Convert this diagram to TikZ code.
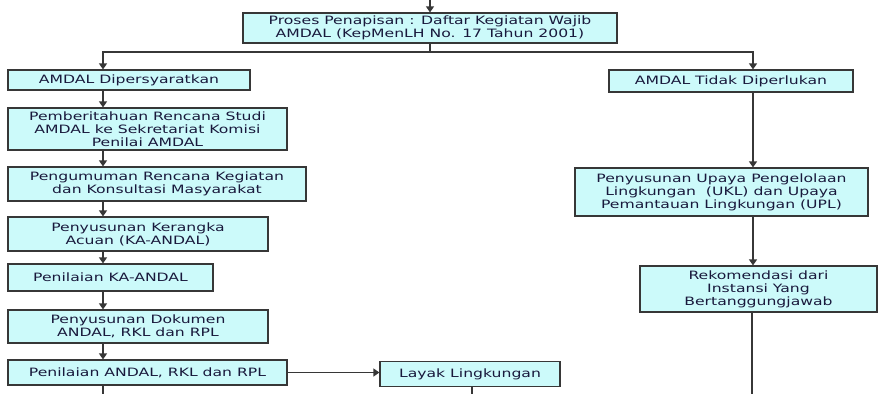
\documentclass[tikz,border=0pt]{standalone}
\usepackage{fontspec}
\newfontfamily\vfont[FakeStretch=1.36]{DejaVu Sans}
\usetikzlibrary{arrows.meta}
\definecolor{boxfill}{RGB}{204,250,250}
\definecolor{boxline}{RGB}{55,55,55}
\definecolor{txt}{RGB}{25,25,60}
\tikzset{
  box/.style={draw=boxline, line width=1.2pt, fill=boxfill, inner sep=0pt,
    align=center, text=txt, font=\vfont\fontsize{11.5}{13}\selectfont},
  arr/.style={draw=boxline, line width=1.2pt, -{Triangle[width=8pt,length=6pt]}},
  ln/.style={draw=boxline, line width=1.2pt}
}
\begin{document}
\begin{tikzpicture}[x=1pt,y=-1pt]
\useasboundingbox[fill=white] (0,0) rectangle (894,394);
% columns
\coordinate (colL) at (103,0);
\coordinate (colR) at (753,0);
\coordinate (topin) at (430,0);
\coordinate (split) at (430,52);
% nodes
\node[box, minimum width=374pt, minimum height=30pt] (top) at (430,28) {Proses Penapisan : Daftar Kegiatan Wajib\\AMDAL (KepMenLH No. 17 Tahun 2001)};
\node[box, minimum width=242pt, minimum height=20pt] (dip) at (129,80) {AMDAL Dipersyaratkan};
\node[box, minimum width=279pt, minimum height=42pt] (pem) at (147.5,129) {Pemberitahuan Rencana Studi\\AMDAL ke Sekretariat Komisi\\Penilai AMDAL};
\node[box, minimum width=298pt, minimum height=34pt] (peng) at (157,184) {Pengumuman Rencana Kegiatan\\dan Konsultasi Masyarakat};
\node[box, minimum width=260pt, minimum height=34pt] (ker) at (138,234) {Penyusunan Kerangka\\Acuan (KA-ANDAL)};
\node[box, minimum width=205pt, minimum height=27pt] (pka) at (110.5,277.5) {Penilaian KA-ANDAL};
\node[box, minimum width=260pt, minimum height=33pt] (dok) at (138,326.5) {Penyusunan Dokumen\\ANDAL, RKL dan RPL};
\node[box, minimum width=279pt, minimum height=25pt] (pan) at (147.5,372.5) {Penilaian ANDAL, RKL dan RPL};
\node[box, minimum width=180pt, minimum height=25pt] (layak) at (470,374) {Layak Lingkungan};
\node[box, minimum width=244pt, minimum height=22pt] (tidak) at (731,81) {AMDAL Tidak Diperlukan};
\node[box, minimum width=293pt, minimum height=48pt] (ukl) at (721.5,192) {Penyusunan Upaya Pengelolaan\\Lingkungan\ \ (UKL) dan Upaya\\Pemantauan Lingkungan (UPL)};
\node[box, minimum width=237pt, minimum height=46pt] (rek) at (758.5,289) {Rekomendasi dari\\Instansi Yang\\Bertanggungjawab};
% free ends at bottom
\coordinate (endL) at (103,394);
\coordinate (endM) at (472,394);
\coordinate (endR) at (752,394);
% connectors
\draw[arr] (topin) -- (top.north);
\draw[ln] (top.south) -- (split);
\draw[arr] (split) -| (dip.north -| colL);
\draw[arr] (split) -| (tidak.north -| colR);
\draw[arr] (dip.south -| colL) -- (pem.north -| colL);
\draw[arr] (pem.south -| colL) -- (peng.north -| colL);
\draw[arr] (peng.south -| colL) -- (ker.north -| colL);
\draw[arr] (ker.south -| colL) -- (pka.north -| colL);
\draw[arr] (pka.south -| colL) -- (dok.north -| colL);
\draw[arr] (dok.south -| colL) -- (pan.north -| colL);
\draw[ln] (pan.south -| colL) -- (endL);
\draw[arr] (pan.east) -- (pan.east -| layak.west);
\draw[ln] (layak.south -| endM) -- (endM);
\draw[arr] (tidak.south -| colR) -- (ukl.north -| colR);
\draw[arr] (ukl.south -| colR) -- (rek.north -| colR);
\draw[ln] (rek.south -| endR) -- (endR);
\end{tikzpicture}
\end{document}
